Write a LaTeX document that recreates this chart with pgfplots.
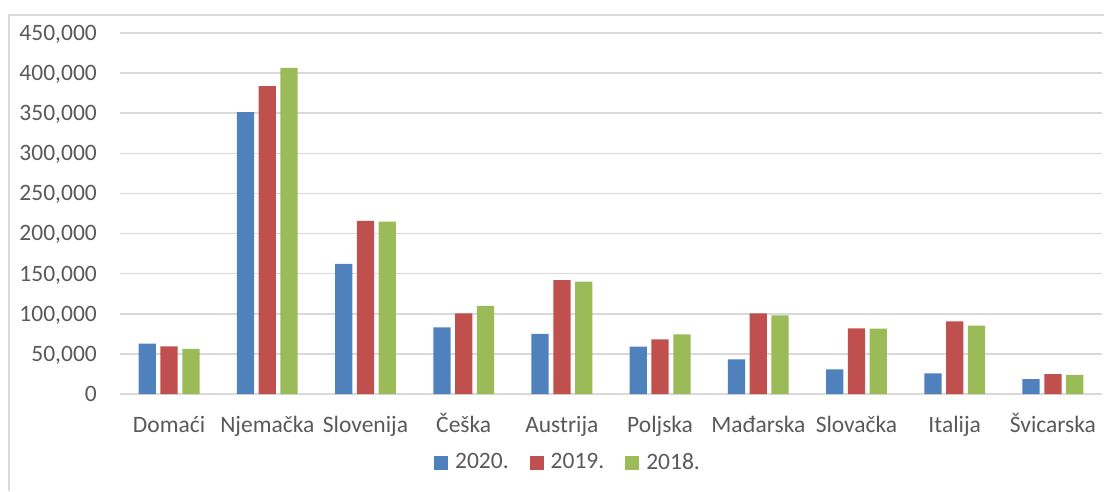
\documentclass[border=0pt]{standalone}
\usepackage{pgfplots}
\pgfplotsset{compat=1.18}
\usepackage{fontspec}
\setmainfont{Carlito}
\definecolor{txt}{HTML}{595959}
\definecolor{grd}{HTML}{D9D9D9}
\definecolor{cA}{HTML}{4F81BD}
\definecolor{cB}{HTML}{C0504D}
\definecolor{cC}{HTML}{9BBB59}
\begin{document}
\fontsize{23.5}{28}\selectfont
\begin{tikzpicture}
\useasboundingbox (0,0) rectangle (1104pt,491pt);
\draw[grd, line width=1.2pt] (9pt,0) -- (9pt,476pt) -- (1104pt,476pt);
\begin{axis}[
  at={(120pt,97pt)}, anchor=south west,
  scale only axis, width=982pt, height=361pt,
  xmin=-0.5, xmax=9.5, ymin=0, ymax=450000,
  ybar, bar width=0.176,
  axis line style={draw=none},
  major tick length=0pt,
  ymajorgrids, grid style={grd, line width=1.6pt},
  xtick={0,...,9},
  xticklabels={Domaći,Njemačka,Slovenija,Češka,Austrija,Poljska,Mađarska,Slovačka,Italija,Švicarska},
  ytick={0,50000,100000,150000,200000,250000,300000,350000,400000,450000},
  yticklabels={0,{50,000},{100,000},{150,000},{200,000},{250,000},{300,000},{350,000},{400,000},{450,000}},
  scaled y ticks=false,
  tick label style={font=\fontsize{23.5}{28}\selectfont, text=txt, inner sep=0pt},
  xticklabel style={anchor=base, yshift=-38.7pt},
  yticklabel style={anchor=base east, xshift=-23pt, yshift=-7.4pt},
  legend style={draw=none, fill=none, at={(0.4567,-0.191)}, anchor=center,
    legend columns=3, font=\fontsize{23.5}{28}\selectfont, text=txt,
    /tikz/every even column/.append style={column sep=18pt},
    nodes={inner xsep=3pt, inner ysep=0pt}},
  legend image code/.code={\fill (0pt,-7pt) rectangle (14pt,7pt); \path (18pt,0pt);},
]
\addplot[fill=cA, draw=none, bar shift=-0.222] coordinates {
(0,62700) (1,351300) (2,162100) (3,83200) (4,74800) (5,59000) (6,43200) (7,30800) (8,25800) (9,18700)};
\addplot[fill=cB, draw=none, bar shift=0] coordinates {
(0,59500) (1,383700) (2,215700) (3,100600) (4,141800) (5,68200) (6,100600) (7,81900) (8,90600) (9,24900)};
\addplot[fill=cC, draw=none, bar shift=0.222] coordinates {
(0,56100) (1,406500) (2,214800) (3,109700) (4,140000) (5,74400) (6,98100) (7,81500) (8,85200) (9,23700)};
\legend{2020.,2019.,2018.}
\end{axis}
\end{tikzpicture}
\end{document}
